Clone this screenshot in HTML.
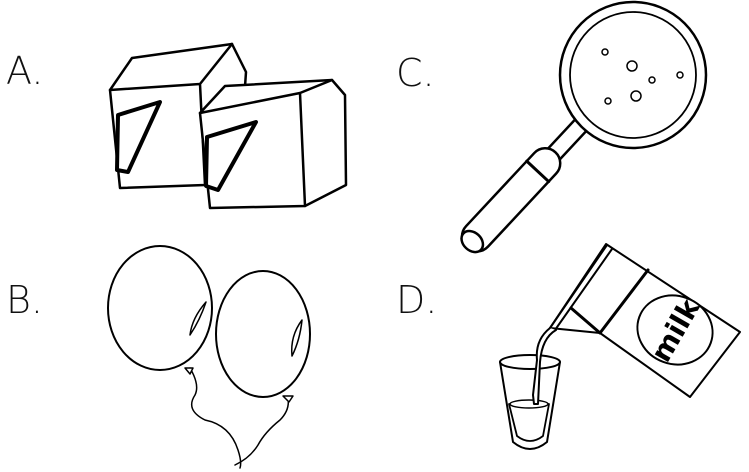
<!DOCTYPE html>
<html><head><style>
html,body{margin:0;padding:0;background:#fff;}
svg{display:block;}
text{font-family:"DejaVu Sans","Liberation Sans",sans-serif;font-weight:200;}
</style></head><body>
<svg width="749" height="472" viewBox="0 0 749 472" xmlns="http://www.w3.org/2000/svg">
<g font-size="38" fill="#111">
<text x="6" y="84">A.</text>
<text x="396" y="86">C.</text>
<text x="6" y="313">B.</text>
<text x="396" y="313">D.</text>
</g>
<g fill="#fff" stroke="#000" stroke-width="2.5" stroke-linejoin="round" stroke-linecap="round">
<!-- ice cube 1 -->
<path d="M110,90 L132,58 L232,44 L246,72 L240,160 L205,185 L120,188 Z"/>
<path d="M110,90 L200,84 L232,44 M200,84 L205,185" fill="none"/>
<path d="M118,115 L160,102 L128,172 L117,170 Z" stroke-width="4"/>
<!-- ice cube 2 -->
<path d="M200,113 L225,86 L332,80 L345,95 L346,185 L305,206 L210,208 Z"/>
<path d="M200,113 L300,93 L332,80 M300,93 L305,206" fill="none"/>
<path d="M207,137 L256,122 L218,190 L206,186 Z" stroke-width="4"/>
<!-- magnifier handle -->
<g transform="translate(580,126) rotate(133)">
<rect x="-5" y="-8" width="45" height="16"/>
<rect x="36" y="-15" width="130" height="30" rx="15"/>
<line x1="62" y1="-15" x2="62" y2="15" stroke-width="3"/>
<ellipse cx="158" cy="0" rx="9" ry="12"/>
</g>
<circle cx="633" cy="75" r="73"/>
<circle cx="633" cy="75" r="63" stroke-width="1.8"/>
<g fill="none" stroke-width="1.5">
<circle cx="605" cy="52" r="3"/><circle cx="632" cy="66" r="5"/><circle cx="652" cy="80" r="3"/>
<circle cx="680" cy="75" r="3"/><circle cx="636" cy="96" r="5"/><circle cx="608" cy="101" r="3"/>
</g>
<!-- balloons -->
<path d="M190,368 Q200,385 195,395 Q185,410 205,420 Q230,425 238,450 Q242,462 240,468" fill="none" stroke-width="1.5"/>
<path d="M288,398 Q290,410 280,420 Q265,432 258,445 Q250,458 235,465" fill="none" stroke-width="1.5"/>
<ellipse cx="160" cy="308" rx="52" ry="62" stroke-width="2"/>
<path d="M185,368 L193,368 L190,374 Z" stroke-width="1.5"/>
<path d="M206,302 Q192,318 190,335 Q200,320 206,302 Z" stroke-width="1.5"/>
<ellipse cx="263" cy="334" rx="47" ry="63" stroke-width="2"/>
<path d="M283,396 L293,396 L289,402 Z" stroke-width="1.5"/>
<path d="M302,320 Q290,336 292,356 Q300,340 302,320 Z" stroke-width="1.5"/>
<!-- glass -->
<path d="M500,362 L513,442 Q530,456 547,442 L560,362" stroke-width="2"/>
<path d="M509,404 L517,436 Q530,446 543,436 L549,404 Z" stroke-width="1.8"/>
<ellipse cx="529" cy="404" rx="19" ry="4" stroke-width="1.5"/>
<ellipse cx="530" cy="362" rx="30" ry="7" stroke-width="2"/>
<!-- carton -->
<path d="M606,244 L740,332 L690,397 L600,333 L550,328 Z" stroke-width="2"/>
<path d="M607,245 L550,328 L555,330 L612,249" fill="none" stroke-width="2"/>
<path d="M571,308 L600,333 M648,270 L600,333" fill="none" stroke-width="3"/>
<ellipse cx="675" cy="330" rx="38" ry="34" transform="rotate(20 675 330)" stroke-width="2"/>
<path d="M550,328 Q535,340 537,360 L533,395 L534,404 L538,404 L540,362 Q542,338 556,330" stroke-width="2"/>
</g>
<text x="675" y="340" font-size="28" text-anchor="middle" transform="rotate(-60 675 330)" style="font-weight:700">milk</text>
</svg>
</body></html>
